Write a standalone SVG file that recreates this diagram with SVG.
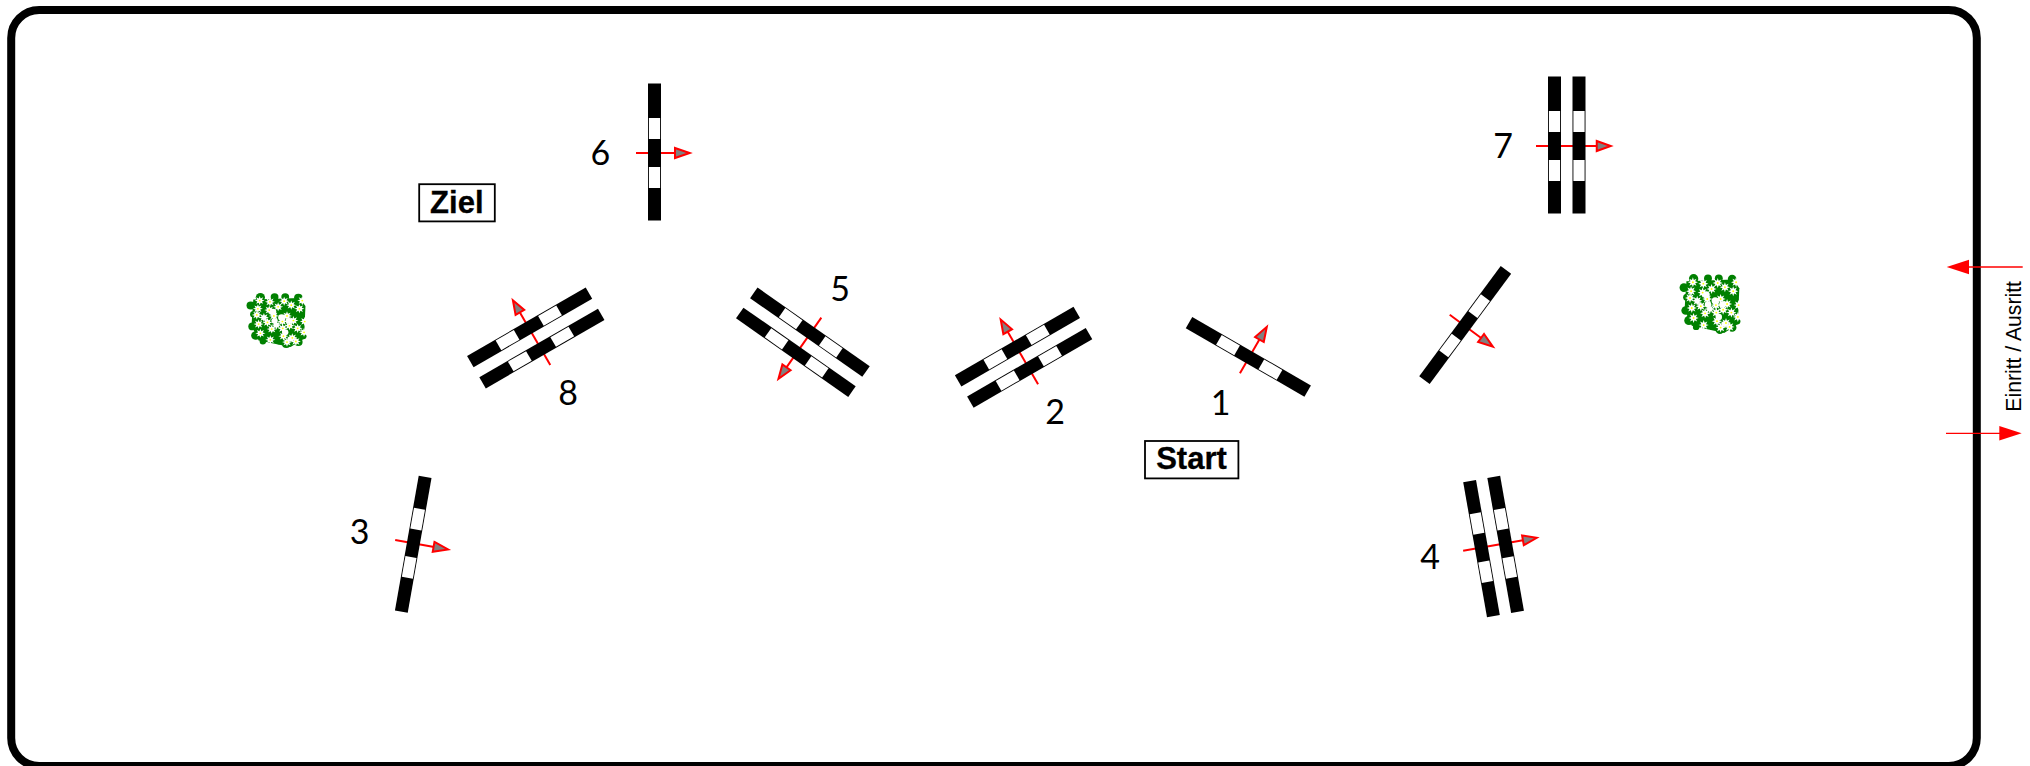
<svg xmlns="http://www.w3.org/2000/svg" width="2030" height="766" viewBox="0 0 2030 766">
<style>
.num{font-family:"Lato","Open Sans",sans-serif;font-size:34px;fill:#000;text-anchor:middle}
.box{fill:#fff;stroke:#000;stroke-width:1.8}
.lab{font-family:"Liberation Sans",Arial,sans-serif;font-size:31px;font-weight:bold;fill:#000;text-anchor:middle;stroke:#000;stroke-width:.3}
.side{font-family:"Liberation Sans",Arial,sans-serif;font-size:21.2px;fill:#000}
.dir{stroke:#f00;stroke-width:2;fill:none}
.head{fill:#808080;stroke:#f00;stroke-width:2}
.flow{stroke:#f00;stroke-width:1.3;fill:none}
.flowhead{fill:#f00}
</style>
<defs>
<g id="bar"><rect x="-6.5" y="-69.5" width="13" height="137" fill="#000"/><rect x="-5.6" y="-35" width="11.2" height="21" fill="#fff"/><rect x="-5.6" y="14" width="11.2" height="21" fill="#fff"/></g>
<g id="gate1"><use href="#bar"/></g>
<g id="gate2"><use href="#bar" x="-12.25"/><use href="#bar" x="12.25"/></g>
<g id="arrow1"><path class="dir" d="M-18.5 0H21"/><path class="head" d="M20.5 -5L35.2 0L20.5 5Z"/></g>
<g id="arrow2"><path class="dir" d="M-30.75 0H30"/><path class="head" d="M30 -5L44 0L30 5Z"/></g>
<path id="daisy" fill="#fff" d="M14 0L6.5 2.7L10 10L2.7 6.5L0 14L-2.7 6.5L-10 10L-6.5 2.7L-14 0L-6.5 -2.7L-10 -10L-2.7 -6.5L0 -14L2.7 -6.5L10 -10L6.5 -2.7Z"/>
<g id="bush">
<g fill="#008000">
<path d="M45 40L175 35L192 60L188 160L150 185L60 165L40 120Z"/>
<circle cx="65" cy="33" r="13"/><circle cx="105" cy="32" r="11"/><circle cx="135" cy="32" r="11"/><circle cx="172" cy="34" r="12"/>
<circle cx="38" cy="58" r="12"/><circle cx="46" cy="85" r="10"/><circle cx="43" cy="122" r="12"/><circle cx="52" cy="150" r="13"/><circle cx="72" cy="168" r="9"/>
<circle cx="118" cy="168" r="9"/><circle cx="138" cy="176" r="12"/><circle cx="172" cy="170" r="12"/><circle cx="186" cy="152" r="9"/>
</g>
<g fill="#fff"><circle cx="100" cy="78" r="10"/><circle cx="125" cy="95" r="10"/><circle cx="105" cy="105" r="9"/><circle cx="145" cy="105" r="9"/><circle cx="135" cy="140" r="9"/><circle cx="150" cy="160" r="8"/></g>
<g id="blooms">
<use href="#daisy" x="63" y="43"/><use href="#daisy" x="92" y="47"/><use href="#daisy" x="132" y="45"/><use href="#daisy" x="183" y="43"/>
<use href="#daisy" x="58" y="68"/><use href="#daisy" x="90" y="72"/><use href="#daisy" x="115" y="62"/><use href="#daisy" x="152" y="57"/><use href="#daisy" x="175" y="68"/>
<use href="#daisy" x="55" y="87"/><use href="#daisy" x="103" y="90"/><use href="#daisy" x="140" y="90"/><use href="#daisy" x="158" y="104"/><use href="#daisy" x="190" y="107"/>
<use href="#daisy" x="127" y="107"/><use href="#daisy" x="85" y="110"/><use href="#daisy" x="147" y="120"/><use href="#daisy" x="60" y="115"/><use href="#daisy" x="97" y="130"/>
<use href="#daisy" x="128" y="128"/><use href="#daisy" x="170" y="128"/><use href="#daisy" x="65" y="143"/><use href="#daisy" x="130" y="152"/><use href="#daisy" x="155" y="157"/>
<use href="#daisy" x="188" y="140"/><use href="#daisy" x="93" y="163"/><use href="#daisy" x="140" y="170"/><use href="#daisy" x="165" y="168"/><use href="#daisy" x="110" y="118"/><use href="#daisy" x="75" y="95"/>
</g>
<g fill="#ff0">
<circle cx="63" cy="43" r="2.6"/><circle cx="92" cy="47" r="2.6"/><circle cx="132" cy="45" r="2.6"/><circle cx="183" cy="43" r="2.6"/><circle cx="58" cy="68" r="2.6"/><circle cx="90" cy="72" r="2.6"/><circle cx="115" cy="62" r="2.6"/><circle cx="152" cy="57" r="2.6"/><circle cx="175" cy="68" r="2.6"/><circle cx="55" cy="87" r="2.6"/><circle cx="103" cy="90" r="2.6"/><circle cx="140" cy="90" r="2.6"/><circle cx="158" cy="104" r="2.6"/><circle cx="190" cy="107" r="2.6"/><circle cx="127" cy="107" r="2.6"/><circle cx="85" cy="110" r="2.6"/><circle cx="147" cy="120" r="2.6"/><circle cx="60" cy="115" r="2.6"/><circle cx="97" cy="130" r="2.6"/><circle cx="128" cy="128" r="2.6"/><circle cx="170" cy="128" r="2.6"/><circle cx="65" cy="143" r="2.6"/><circle cx="130" cy="152" r="2.6"/><circle cx="155" cy="157" r="2.6"/><circle cx="188" cy="140" r="2.6"/><circle cx="93" cy="163" r="2.6"/><circle cx="140" cy="170" r="2.6"/><circle cx="165" cy="168" r="2.6"/>
</g>
</g>
</defs>
<rect width="2030" height="766" fill="#fff"/>
<rect id="arena" x="11.2" y="10" width="1965.6" height="756" rx="28" ry="28" fill="#fff" stroke="#000" stroke-width="8"/>
<g id="connectors">
<use href="#arrow1" transform="translate(1249.2 357.3) rotate(-60)"/>
<use href="#arrow2" transform="translate(1022.7 357.7) rotate(-120)"/>
<use href="#arrow1" transform="translate(413.4 543.3) rotate(10)"/>
<use href="#arrow2" transform="translate(1493.4 545.5) rotate(-10)"/>
<use href="#arrow2" transform="translate(803.7 342.8) rotate(125)"/>
<use href="#arrow1" transform="translate(654.5 153)"/>
<use href="#arrow2" transform="translate(1566.75 146)"/>
<use href="#arrow2" transform="translate(534.9 338.4) rotate(-120)"/>
<use href="#arrow1" transform="translate(1464.6 325.8) rotate(36.5)"/>
<g id="exit"><path class="flow" d="M2022.7 267H1968"/><path class="flowhead" d="M1946.7 267L1969 259.8V274.2Z"/></g>
<g id="entry"><path class="flow" d="M1946 433.3H2000"/><path class="flowhead" d="M2021.7 433.3L1999.3 426.1V440.5Z"/></g>
</g>
<g id="gate-1"><use href="#gate1" transform="translate(1249.2 357.3) rotate(-60)"/><text class="num" x="1220.5" y="415">1</text></g>
<g id="gate-2"><use href="#gate2" transform="translate(1022.7 357.7) rotate(-120) scale(1 -1)"/><text class="num" x="1055" y="424">2</text></g>
<g id="gate-3"><use href="#gate1" transform="translate(413.4 543.3) rotate(10) scale(1 -1)"/><text class="num" x="359.7" y="544">3</text></g>
<g id="gate-4"><use href="#gate2" transform="translate(1493.4 545.5) rotate(-10) scale(1 -1)"/><text class="num" x="1430" y="569">4</text></g>
<g id="gate-5"><use href="#gate2" transform="translate(803.7 342.8) rotate(125) scale(1 -1)"/><text class="num" x="840" y="301">5</text></g>
<g id="gate-6"><use href="#gate1" transform="translate(654.5 153)"/><text class="num" x="600.3" y="165">6</text></g>
<g id="gate-7"><use href="#gate2" transform="translate(1566.75 146)"/><text class="num" x="1503" y="158">7</text></g>
<g id="gate-8"><use href="#gate2" transform="translate(534.9 338.4) rotate(-120) scale(1 -1)"/><text class="num" x="568" y="405">8</text></g>
<g id="gate-unnumbered"><use href="#gate1" transform="translate(1464.6 325.8) rotate(36.5)"/></g>
<g id="start"><rect class="box" x="1145" y="441" width="93.4" height="37.4"/><text class="lab" x="1191.5" y="469">Start</text></g>
<g id="ziel"><rect class="box" x="419.2" y="184.2" width="75.6" height="37.2"/><text class="lab" x="456.8" y="212.7">Ziel</text></g>
<g id="bush-left"><use href="#bush" transform="translate(237.3 286.5) scale(.355 .327)"/></g>
<g id="bush-right"><use href="#bush" transform="translate(1670.2 266.9) scale(.36 .357)"/></g>
<g id="entry-label"><text class="side" transform="translate(2021 411.7) rotate(-90)">Einritt / Ausritt</text></g>
</svg>
